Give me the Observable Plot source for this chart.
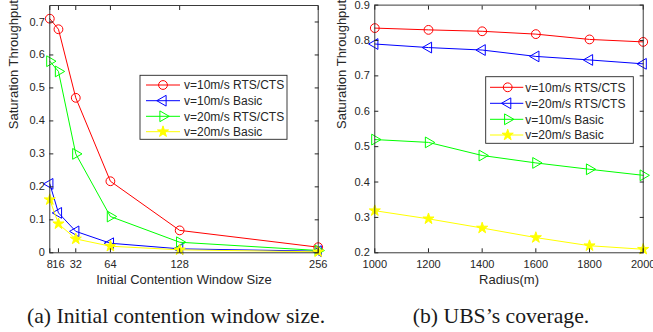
<!DOCTYPE html>
<html>
<head>
<meta charset="utf-8">
<script src="https://cdn.jsdelivr.net/npm/d3@7"></script>
<script src="https://cdn.jsdelivr.net/npm/@observablehq/plot@0.6"></script>
<style>
  body { margin: 0; background: #fff; }
  #wrap { position: relative; width: 653px; height: 332px; overflow: hidden; background: #fff; }
  .panel { position: absolute; top: 0; }
  #overlay { position: absolute; left: 0; top: 0; }
</style>
</head>
<body>
<div id="wrap">
  <div id="left" class="panel" style="left:0px"></div>
  <div id="right" class="panel" style="left:330px"></div>
</div>
<script>
// ---------- data ----------
const cwSizes = [8, 16, 32, 64, 128, 256];
const cwTickLabels = ["8", "16", "32", "64", "128", "256"];
const cwRtsV10 = [0.710, 0.678, 0.470, 0.217, 0.068, 0.017];
const cwBasicV10 = [0.209, 0.121, 0.065, 0.029, 0.012, 0.005];
const cwRtsV20 = [0.581, 0.550, 0.300, 0.110, 0.032, 0.007];
const cwBasicV20 = [0.161, 0.088, 0.042, 0.020, 0.009, 0.003];
const cwYTicks = [0, 0.1, 0.2, 0.3, 0.4, 0.5, 0.6, 0.7];

const radius = [1000, 1200, 1400, 1600, 1800, 2000];
const rRtsV10 = [0.835, 0.830, 0.826, 0.818, 0.803, 0.796];
const rRtsV20 = [0.790, 0.780, 0.773, 0.755, 0.745, 0.734];
const rBasicV10 = [0.520, 0.512, 0.475, 0.454, 0.436, 0.419];
const rBasicV20 = [0.319, 0.296, 0.270, 0.243, 0.220, 0.210];
const rYTicks = [0.2, 0.3, 0.4, 0.5, 0.6, 0.7, 0.8, 0.9];

const leftNames = ["v=10m/s RTS/CTS", "v=10m/s Basic", "v=20m/s RTS/CTS", "v=20m/s Basic"];
const rightNames = ["v=10m/s RTS/CTS", "v=20m/s RTS/CTS", "v=10m/s Basic", "v=20m/s Basic"];
const seriesColors = ["#ff0000", "#0000ff", "#00ff00", "#ffff00"];
const seriesMarkers = ["circle", "triLeft", "triRight", "star"];

const captions = ["(a) Initial contention window size.", "(b) UBS\u2019s coverage."];

// ---------- helpers ----------
const axisColor = "#262626";
const sansFont = "'Liberation Sans', Arial, Helvetica, sans-serif";

function markerSpec(m) {
  if (m === "circle") return {symbol: "circle", rotate: 0, filled: false, r: 4.4};
  if (m === "triLeft") return {symbol: "triangle", rotate: -90, filled: false, r: 4.0};
  if (m === "triRight") return {symbol: "triangle", rotate: 90, filled: false, r: 4.0};
  return {symbol: "star", rotate: 0, filled: true, r: 3.5};
}

function buildRows(xs, ys, names) {
  const rows = [];
  ys.forEach((arr, i) => arr.forEach((v, j) => rows.push({x: xs[j], y: v, s: names[i], i})));
  return rows;
}

function panel({xs, ys, names, xDomain, yDomain, xTicks, xTickFormat, yTicks, xLabel, yLabel, width, height, margins, yLabelDx}) {
  const rows = buildRows(xs, ys, names);
  const marks = [];
  names.forEach((n, i) => {
    const data = rows.filter(d => d.i === i);
    const spec = markerSpec(seriesMarkers[i]);
    marks.push(Plot.line(data, {x: "x", y: "y", stroke: seriesColors[i], strokeWidth: 1}));
    marks.push(Plot.dot(data, {
      x: "x", y: "y", symbol: () => spec.symbol, r: spec.r, rotate: spec.rotate,
      stroke: seriesColors[i], strokeWidth: 1,
      fill: spec.filled ? seriesColors[i] : "none"
    }));
  });
  marks.push(Plot.frame({stroke: axisColor, strokeWidth: 0.9}));
  marks.push(Plot.axisX({anchor: "bottom", ticks: xTicks, tickFormat: xTickFormat, tickSize: -4, tickPadding: 11, fontSize: 11, label: null, stroke: axisColor, fill: axisColor}));
  marks.push(Plot.axisX({anchor: "top", ticks: xTicks, tickFormat: () => "", tickSize: -4, label: null, stroke: axisColor}));
  marks.push(Plot.axisY({anchor: "left", ticks: yTicks, tickFormat: d => String(d), tickSize: -4, tickPadding: 9, fontSize: 11, label: null, stroke: axisColor, fill: axisColor}));
  marks.push(Plot.axisY({anchor: "right", ticks: yTicks, tickFormat: () => "", tickSize: -4, label: null, stroke: axisColor}));
  marks.push(Plot.text([xLabel], {text: d => d, frameAnchor: "bottom", dy: 31.5, fontSize: 13, fill: axisColor}));
  marks.push(Plot.text([yLabel], {text: d => d, frameAnchor: "left", dx: yLabelDx, rotate: -90, fontSize: 13, fill: axisColor}));
  return Plot.plot({
    width, height,
    marginLeft: margins[0], marginRight: margins[1], marginTop: margins[2], marginBottom: margins[3],
    x: {type: "linear", domain: xDomain},
    y: {type: "linear", domain: yDomain},
    style: {fontFamily: sansFont, color: axisColor, background: "transparent", overflow: "visible"},
    marks
  });
}

const leftPlot = panel({
  xs: cwSizes, ys: [cwRtsV10, cwBasicV10, cwRtsV20, cwBasicV20], names: leftNames,
  xDomain: [8, 256], yDomain: [0, 0.75],
  xTicks: cwSizes, xTickFormat: d => cwTickLabels[cwSizes.indexOf(d)],
  yTicks: cwYTicks,
  xLabel: "Initial Contention Window Size", yLabel: "Saturation Throughput",
  width: 330, height: 300, margins: [49.3, 12.3, 5, 47.7], yLabelDx: -36
});
const rightPlot = panel({
  xs: radius, ys: [rRtsV10, rRtsV20, rBasicV10, rBasicV20], names: rightNames,
  xDomain: [1000, 2000], yDomain: [0.2, 0.9],
  xTicks: radius, xTickFormat: d => String(d),
  yTicks: rYTicks,
  xLabel: "Radius(m)", yLabel: "Saturation Throughput",
  width: 323, height: 300, margins: [44.3, 10.3, 4.6, 47.7], yLabelDx: -32.6
});
document.getElementById("left").appendChild(leftPlot);
document.getElementById("right").appendChild(rightPlot);

// ---------- legends and captions (overlay) ----------
const svg = d3.select("#wrap").append("svg")
  .attr("id", "overlay").attr("width", 653).attr("height", 332);

function legend(names, box, rowY, lineX, markX, textX) {
  const g = svg.append("g");
  g.append("rect").attr("x", box[0]).attr("y", box[1]).attr("width", box[2]).attr("height", box[3])
    .attr("fill", "#fff").attr("stroke", axisColor).attr("stroke-width", 0.9);
  names.forEach((n, i) => {
    const y = rowY[i];
    const spec = markerSpec(seriesMarkers[i]);
    g.append("line").attr("x1", lineX[0]).attr("x2", lineX[1]).attr("y1", y).attr("y2", y)
      .attr("stroke", seriesColors[i]).attr("stroke-width", 1);
    const type = spec.symbol === "circle" ? d3.symbolCircle : spec.symbol === "star" ? d3.symbolStar : d3.symbolTriangle;
    g.append("path").attr("d", d3.symbol(type, Math.PI * spec.r * spec.r)())
      .attr("transform", `translate(${markX},${y}) rotate(${spec.rotate})`)
      .attr("fill", spec.filled ? seriesColors[i] : "none").attr("stroke", seriesColors[i]).attr("stroke-width", 1);
    g.append("text").attr("x", textX).attr("y", y).attr("dy", "0.35em")
      .attr("font-family", sansFont).attr("font-size", 12).attr("fill", axisColor).text(n);
  });
}
legend(leftNames, [140, 75.3, 147, 64], [85, 100.7, 116.3, 131.7], [146, 180], 163, 184);
legend(rightNames, [485.7, 76.7, 147.6, 66.6], [87.3, 103.3, 119.3, 135], [490, 523.3], 507.7, 525.3);

const capX = [176, 501];
captions.forEach((c, i) => {
  svg.append("text").attr("x", capX[i]).attr("y", 323).attr("text-anchor", "middle")
    .attr("font-family", "'Liberation Serif', 'Times New Roman', serif").attr("font-size", 21.7)
    .attr("fill", "#1a1a1a").text(c);
});
</script>
</body>
</html>
